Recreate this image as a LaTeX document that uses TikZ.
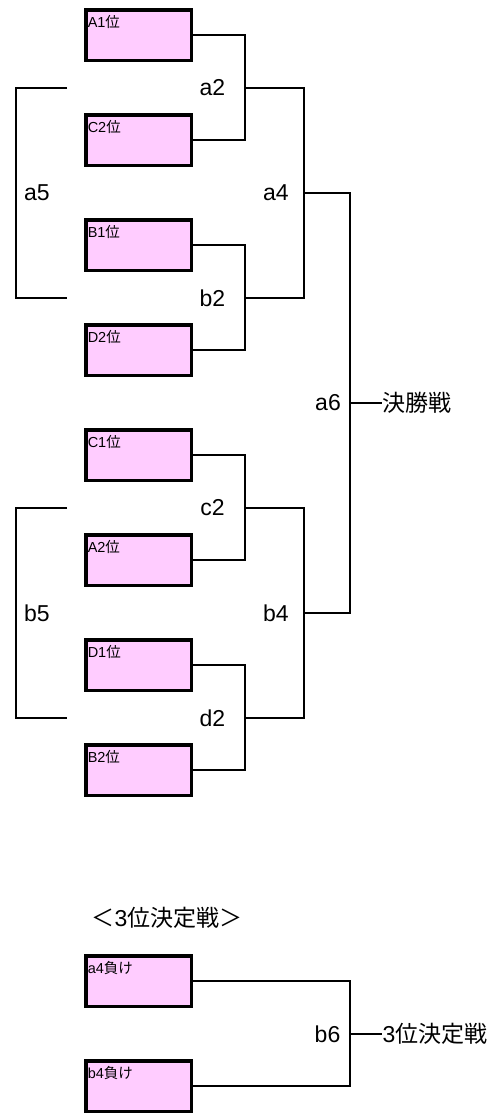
\documentclass[tikz,border=0pt]{standalone}
\usepackage{fontspec}
\setmainfont{Noto Sans CJK JP}
\newfontfamily\lat{Liberation Sans}
\definecolor{teampink}{HTML}{FFCCFF}

\begin{document}
\begin{tikzpicture}[x=1pt,y=-1pt,
  every path/.style={line width=1.3pt},
  team/.style={draw,line width=3.5pt,fill=teampink,rectangle,
    minimum width=105.5pt,minimum height=50.5pt,inner sep=2pt,
    text width=101.5pt,text height=15.25pt,text depth=31.25pt,
    font=\fontsize{14.5}{14.5}\selectfont},
  lbl/.style={inner sep=0pt,font=\fontsize{23}{23}\selectfont\lat},
  jlbl/.style={inner sep=0pt,font=\fontsize{23}{23}\selectfont}]
\useasboundingbox (0,0) rectangle (498,1114);
% teams
\node[team] (A1) at (138.5,35)  {{\lat A1}位};
\node[team] (C2) at (138.5,140) {{\lat C2}位};
\node[team] (B1) at (138.5,245) {{\lat B1}位};
\node[team] (D2) at (138.5,350) {{\lat D2}位};
\node[team] (C1) at (138.5,455) {{\lat C1}位};
\node[team] (A2) at (138.5,560) {{\lat A2}位};
\node[team] (D1) at (138.5,665) {{\lat D1}位};
\node[team] (B2) at (138.5,770) {{\lat B2}位};
% junctions
\coordinate (ja2) at (245,88);
\coordinate (jb2) at (245,298);
\coordinate (jc2) at (245,508);
\coordinate (jd2) at (245,718);
\coordinate (ja4) at (304,193);
\coordinate (jb4) at (304,613);
\coordinate (ja6) at (350,403);
\coordinate (ja5t) at (67,88);
\coordinate (ja5b) at (67,298);
\coordinate (jb5t) at (67,508);
\coordinate (jb5b) at (67,718);
% match labels
\node[lbl] (a2) at (212.5,88)  {a2};
\node[lbl] (b2) at (212.5,298) {b2};
\node[lbl] (c2) at (212.5,508) {c2};
\node[lbl] (d2) at (212.5,718) {d2};
\node[lbl] (a4) at (276,193)   {a4};
\node[lbl] (b4) at (276,613)   {b4};
\node[lbl] (a5) at (37,193)    {a5};
\node[lbl] (b5) at (37,613)    {b5};
\node[lbl] (a6) at (328,403)   {a6};
\node[jlbl,anchor=west] (final) at (382,403) {決勝戦};
% third place
\node[jlbl,anchor=west] (third) at (91,918) {＜{\lat 3}位決定戦＞};
\node[team] (La4) at (138.5,981)  {{\lat a4}負け};
\node[team] (Lb4) at (138.5,1086) {{\lat b4}負け};
\coordinate (jb6) at (350,1034);
\node[lbl] (b6) at (327.5,1034) {b6};
\node[jlbl,anchor=west] (thirdend) at (382,1034) {{\lat 3}位決定戦};
% brackets
\draw (A1.east) -| (ja2) |- (C2.east);
\draw (B1.east) -| (jb2) |- (D2.east);
\draw (C1.east) -| (jc2) |- (A2.east);
\draw (D1.east) -| (jd2) |- (B2.east);
\draw (ja2) -| (ja4) |- (jb2);
\draw (jc2) -| (jb4) |- (jd2);
\draw (ja4) -| (ja6) |- (jb4);
\draw (ja6) -- (final.west);
\draw (ja5t) -- ++(-51,0) |- (ja5b);
\draw (jb5t) -- ++(-51,0) |- (jb5b);
\draw (La4.east) -| (jb6) |- (Lb4.east);
\draw (jb6) -- (thirdend.west);
\end{tikzpicture}
\end{document}
